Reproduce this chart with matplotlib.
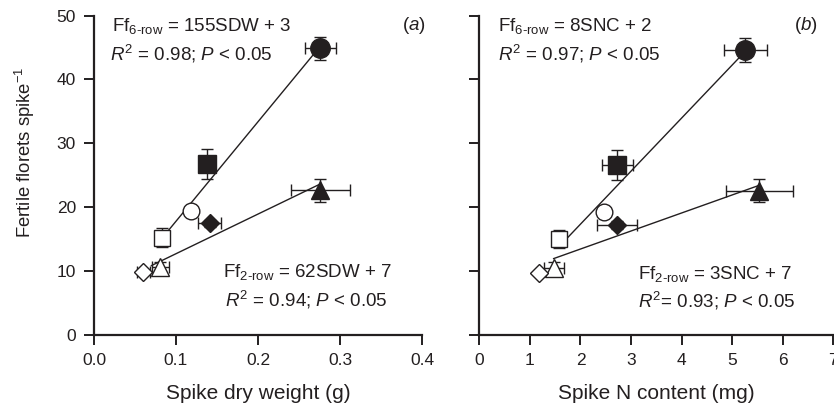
import matplotlib
matplotlib.use("Agg")
import matplotlib.pyplot as plt

plt.rcParams["font.family"] = ["Liberation Sans", "DejaVu Sans"]
plt.rcParams["mathtext.fontset"] = "custom"
plt.rcParams["mathtext.rm"] = "Liberation Sans"
plt.rcParams["mathtext.it"] = "Liberation Sans:italic"
plt.rcParams["mathtext.bf"] = "Liberation Sans:bold"

ink = "#231f20"

# marker order: 6-row (filled circle, filled square, open circle, open square),
# 2-row (filled triangle, filled diamond, open triangle, open diamond)
markers = ["o", "s", "o", "s", "^", "D", "^", "D"]
filled = [True, True, False, False, True, True, False, False]
msizes = [14, 13, 12, 12, 13, 9, 13, 9]

# panel (a): spike dry weight (g)
sdw = [0.276, 0.138, 0.118, 0.083, 0.276, 0.141, 0.081, 0.060]
sdw_err = [0.019, 0.006, 0.0, 0.0, 0.036, 0.014, 0.010, 0.008]
ff_a = [44.9, 26.7, 19.4, 15.2, 22.6, 17.4, 10.6, 9.8]
ff_a_err = [1.8, 2.35, 0.0, 1.5, 1.8, 0.6, 0.8, 0.0]

# panel (b): spike N content (mg)
snc = [5.26, 2.73, 2.47, 1.58, 5.54, 2.72, 1.47, 1.19]
snc_err = [0.43, 0.30, 0.0, 0.1, 0.67, 0.40, 0.2, 0.0]
ff_b = [44.6, 26.6, 19.2, 15.0, 22.5, 17.2, 10.5, 9.7]
ff_b_err = [1.9, 2.35, 0.0, 1.4, 1.8, 0.6, 0.8, 0.0]

# fitted lines (end points)
fit_a6_x, fit_a6_y = [0.083, 0.276], [15.1, 45.2]
fit_a2_x, fit_a2_y = [0.070, 0.276], [10.8, 23.6]
fit_b6_x, fit_b6_y = [1.58, 5.26], [13.8, 44.4]
fit_b2_x, fit_b2_y = [1.47, 5.54], [11.9, 23.4]

fig = plt.figure(figsize=(8.34, 4.07), dpi=100)
ax1 = fig.add_axes([0.1127, 0.1781, 0.3933, 0.7838])
ax2 = fig.add_axes([0.5747, 0.1781, 0.4245, 0.7838])


def draw(ax, x, xerr, y, yerr, fits):
    for fx, fy in fits:
        ax.plot(fx, fy, color=ink, lw=1.0, zorder=2)
    ax.errorbar(x, y, xerr=xerr, yerr=yerr, fmt="none", ecolor=ink,
                elinewidth=1.0, capsize=4, capthick=1.0, zorder=2)
    for i in range(len(x)):
        ax.plot(x[i], y[i], marker=markers[i], ms=msizes[i], ls="none",
                mfc=ink if filled[i] else "white", mec=ink, mew=1.0, zorder=3)
    for s in ["top", "right"]:
        ax.spines[s].set_visible(False)
    for s in ["left", "bottom"]:
        ax.spines[s].set_linewidth(1.6)
        ax.spines[s].set_color(ink)
    ax.tick_params(direction="out", length=7, width=1.4, color=ink,
                   labelsize=12.5, labelcolor=ink, pad=6)
    ax.set_ylim(0, 50)
    ax.set_yticks([0, 10, 20, 30, 40, 50])


draw(ax1, sdw, sdw_err, ff_a, ff_a_err, [(fit_a6_x, fit_a6_y), (fit_a2_x, fit_a2_y)])
ax1.set_xlim(0, 0.4)
ax1.set_xticks([0.0, 0.1, 0.2, 0.3, 0.4])
ax1.set_xticklabels(["0.0", "0.1", "0.2", "0.3", "0.4"])
ax1.set_xlabel("Spike dry weight (g)", fontsize=15, color=ink, labelpad=12)
ax1.set_ylabel("Fertile florets spike$^{-1}$", fontsize=13.3, color=ink)
ax1.yaxis.set_label_coords(-0.175, 0.572)

draw(ax2, snc, snc_err, ff_b, ff_b_err, [(fit_b6_x, fit_b6_y), (fit_b2_x, fit_b2_y)])
ax2.set_xlim(0, 7)
ax2.set_xticks(range(8))
ax2.set_yticklabels([])
ax2.set_xlabel("Spike N content (mg)", fontsize=15, color=ink, labelpad=12)

fs = 13.5
kw = dict(fontsize=fs, color=ink, va="baseline", ha="left")
ax1.text(0.054, 0.952, r"Ff$_{\mathrm{6\text{-}row}}$ = 155SDW + 3", transform=ax1.transAxes, **kw)
ax1.text(0.049, 0.860, r"$\it{R}^{2}$ = 0.98; $\it{P}$ < 0.05", transform=ax1.transAxes, **kw)
ax1.text(0.94, 0.954, r"($\it{a}$)", transform=ax1.transAxes, **kw)
ax1.text(0.393, 0.181, r"Ff$_{\mathrm{2\text{-}row}}$ = 62SDW + 7", transform=ax1.transAxes, **kw)
ax1.text(0.399, 0.089, r"$\it{R}^{2}$ = 0.94; $\it{P}$ < 0.05", transform=ax1.transAxes, **kw)

ax2.text(0.053, 0.952, r"Ff$_{\mathrm{6\text{-}row}}$ = 8SNC + 2", transform=ax2.transAxes, **kw)
ax2.text(0.053, 0.860, r"$\it{R}^{2}$ = 0.97; $\it{P}$ < 0.05", transform=ax2.transAxes, **kw)
ax2.text(0.889, 0.954, r"($\it{b}$)", transform=ax2.transAxes, **kw)
ax2.text(0.448, 0.174, r"Ff$_{\mathrm{2\text{-}row}}$ = 3SNC + 7", transform=ax2.transAxes, **kw)
ax2.text(0.448, 0.086, r"$\it{R}^{2}$= 0.93; $\it{P}$ < 0.05", transform=ax2.transAxes, **kw)

fig.savefig("out.png", dpi=100)
